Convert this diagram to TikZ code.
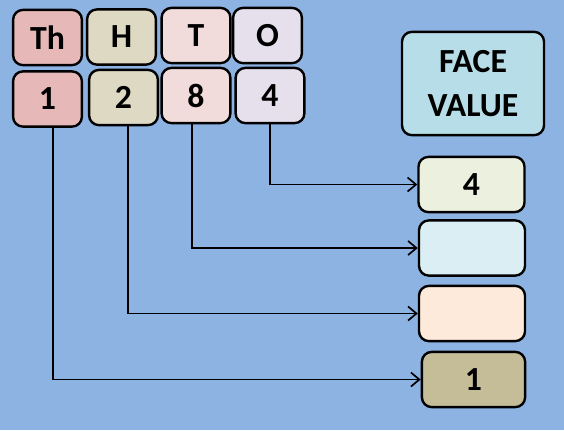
\documentclass[tikz,border=0pt]{standalone}
\usepackage{fontspec}
\setmainfont{Carlito}
\usetikzlibrary{arrows.meta, positioning}

\definecolor{bgblue}{HTML}{8DB3E2}
\definecolor{thcol}{HTML}{E6B9B8}
\definecolor{hcol}{HTML}{DDD9C3}
\definecolor{tcol}{HTML}{F2DCDB}
\definecolor{ocol}{HTML}{E5E0EC}
\definecolor{facecol}{HTML}{B7DEE8}
\definecolor{onescol}{HTML}{EBF1DE}
\definecolor{tenscol}{HTML}{DBEEF4}
\definecolor{hundcol}{HTML}{FDEADA}
\definecolor{thoucol}{HTML}{C4BD97}

\begin{document}
\begin{tikzpicture}[x = 0.025cm, y = -0.025cm,
    box/.style = {draw, line width = 1.7pt, rounded corners = 7pt, minimum width = 1.72cm, minimum height = 1.38cm, inner sep = 0pt, font = \fontsize{24}{28}\selectfont\bfseries},
    facebox/.style = {box, minimum width = 2.65cm},
    link/.style = {-{Straight Barb[length = 6pt, width = 10pt]}, line width = 1.2pt}]
    \fill[bgblue] (0,0) rectangle (564,430);
    % place value headings
    \node[box, fill = thcol]	(th)	at (47.5, 37.5)		{Th};
    \node[box, fill = hcol]		(h)		at (121.5, 37)		{H};
    \node[box, fill = tcol]		(t)		at (196, 35.5)		{T};
    \node[box, fill = ocol]		(o)		at (267.5, 35.5)	{O};
    % digits
    \node[box, fill = thcol]	(d1)	at (47.5, 99)		{1};
    \node[box, fill = hcol]		(d2)	at (123.5, 97.5)	{2};
    \node[box, fill = tcol]		(d8)	at (196, 95.5)		{8};
    \node[box, fill = ocol]		(d4)	at (270, 95.5)		{4};
    % face values
    \node[box, fill = facecol, minimum width = 3.55cm, minimum height = 2.58cm, align = center, font = \fontsize{24}{31}\selectfont\bfseries]	(face)	at (473, 83.5)	{FACE\\VALUE};
    \node[facebox, fill = onescol]	(f4)	at (471.5, 184.5)	{4};
    \node[facebox, fill = tenscol]	(f8)	at (472, 248)		{};
    \node[facebox, fill = hundcol]	(f2)	at (472, 313.5)		{};
    \node[facebox, fill = thoucol, minimum width = 2.58cm]	(f1)	at (473.5, 379.5)	{1};
    % connectors
    \draw[link]	(d4.south)					|- (f4.west);
    \draw[link]	([xshift = -0.1cm]d8.south)	|- (f8.west);
    \draw[link]	([xshift = 0.11cm]d2.south)	|- (f2.west);
    \draw[link]	([xshift = 0.13cm]d1.south)	|- (f1.west);
\end{tikzpicture}
\end{document}
